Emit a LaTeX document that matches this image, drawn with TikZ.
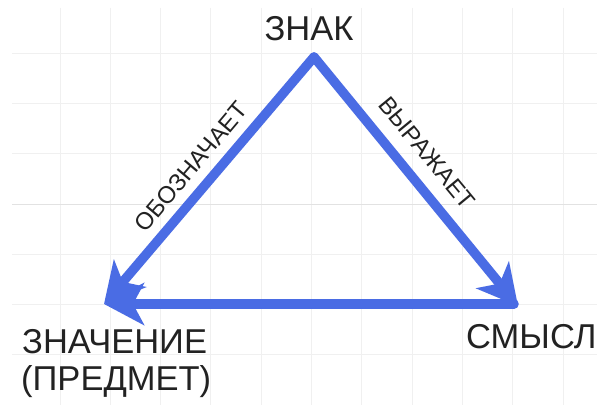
\documentclass[tikz,border=0pt]{standalone}
\usepackage{fontspec}
\setmainfont{Liberation Sans}
\usetikzlibrary{arrows.meta}
\definecolor{arrowblue}{RGB}{74,108,228}
\definecolor{gridgray}{RGB}{240,240,240}
\definecolor{gridmid}{RGB}{226,226,226}
\definecolor{textgray}{RGB}{34,34,34}
\begin{document}
\begin{tikzpicture}[x=1pt,y=-1pt,
  gridline/.style={draw=gridgray,line width=0.9pt},
  rel/.style={draw=arrowblue,line width=9.5pt,line cap=round,
    -{Stealth[length=40pt,width=42pt,inset=11pt]}},
  bigtext/.style={font=\fontsize{34.5}{37}\selectfont,inner sep=0pt,text=textgray},
  smalltext/.style={font=\fontsize{24}{26}\selectfont,inner sep=0pt,text=textgray}]
\useasboundingbox[fill=white] (0,0) rectangle (609,412);
% grid
\foreach \k in {0,...,10} {
  \draw[gridline] ({60+50.3*\k},8) -- ({60+50.3*\k},405);
}
\foreach \k in {0,1,2,4,5,6} {
  \draw[gridline] (12,{53+50.3*\k}) -- (597,{53+50.3*\k});
}
\draw[draw=gridmid,line width=0.9pt] (12,204) -- (597,204);
% corners
\coordinate (apex) at (314,57);
\coordinate (right) at (518,306);
\coordinate (rstart) at (514,304);
\coordinate (left) at (104,304);
% connectors
\draw[rel] (apex) -- (right);
\draw[rel] (rstart) -- (left);
\draw[rel] (apex) -- (left);
% labels
\node[bigtext,anchor=base] (znak) at (309,41) {ЗНАК};
\node[bigtext,anchor=base west] (smysl) at (466,348) {СМЫСЛ};
\node[bigtext,anchor=base west] (znach1) at (22,353) {ЗНАЧЕНИЕ};
\node[bigtext,anchor=base west] (znach2) at (21,390) {(ПРЕДМЕТ)};
\node[smalltext,rotate=49.8] (oboz) at (191,167) {ОБОЗНАЧАЕТ};
\node[smalltext,rotate=-50.5] (vyr) at (427,153) {ВЫРАЖАЕТ};
\end{tikzpicture}
\end{document}
